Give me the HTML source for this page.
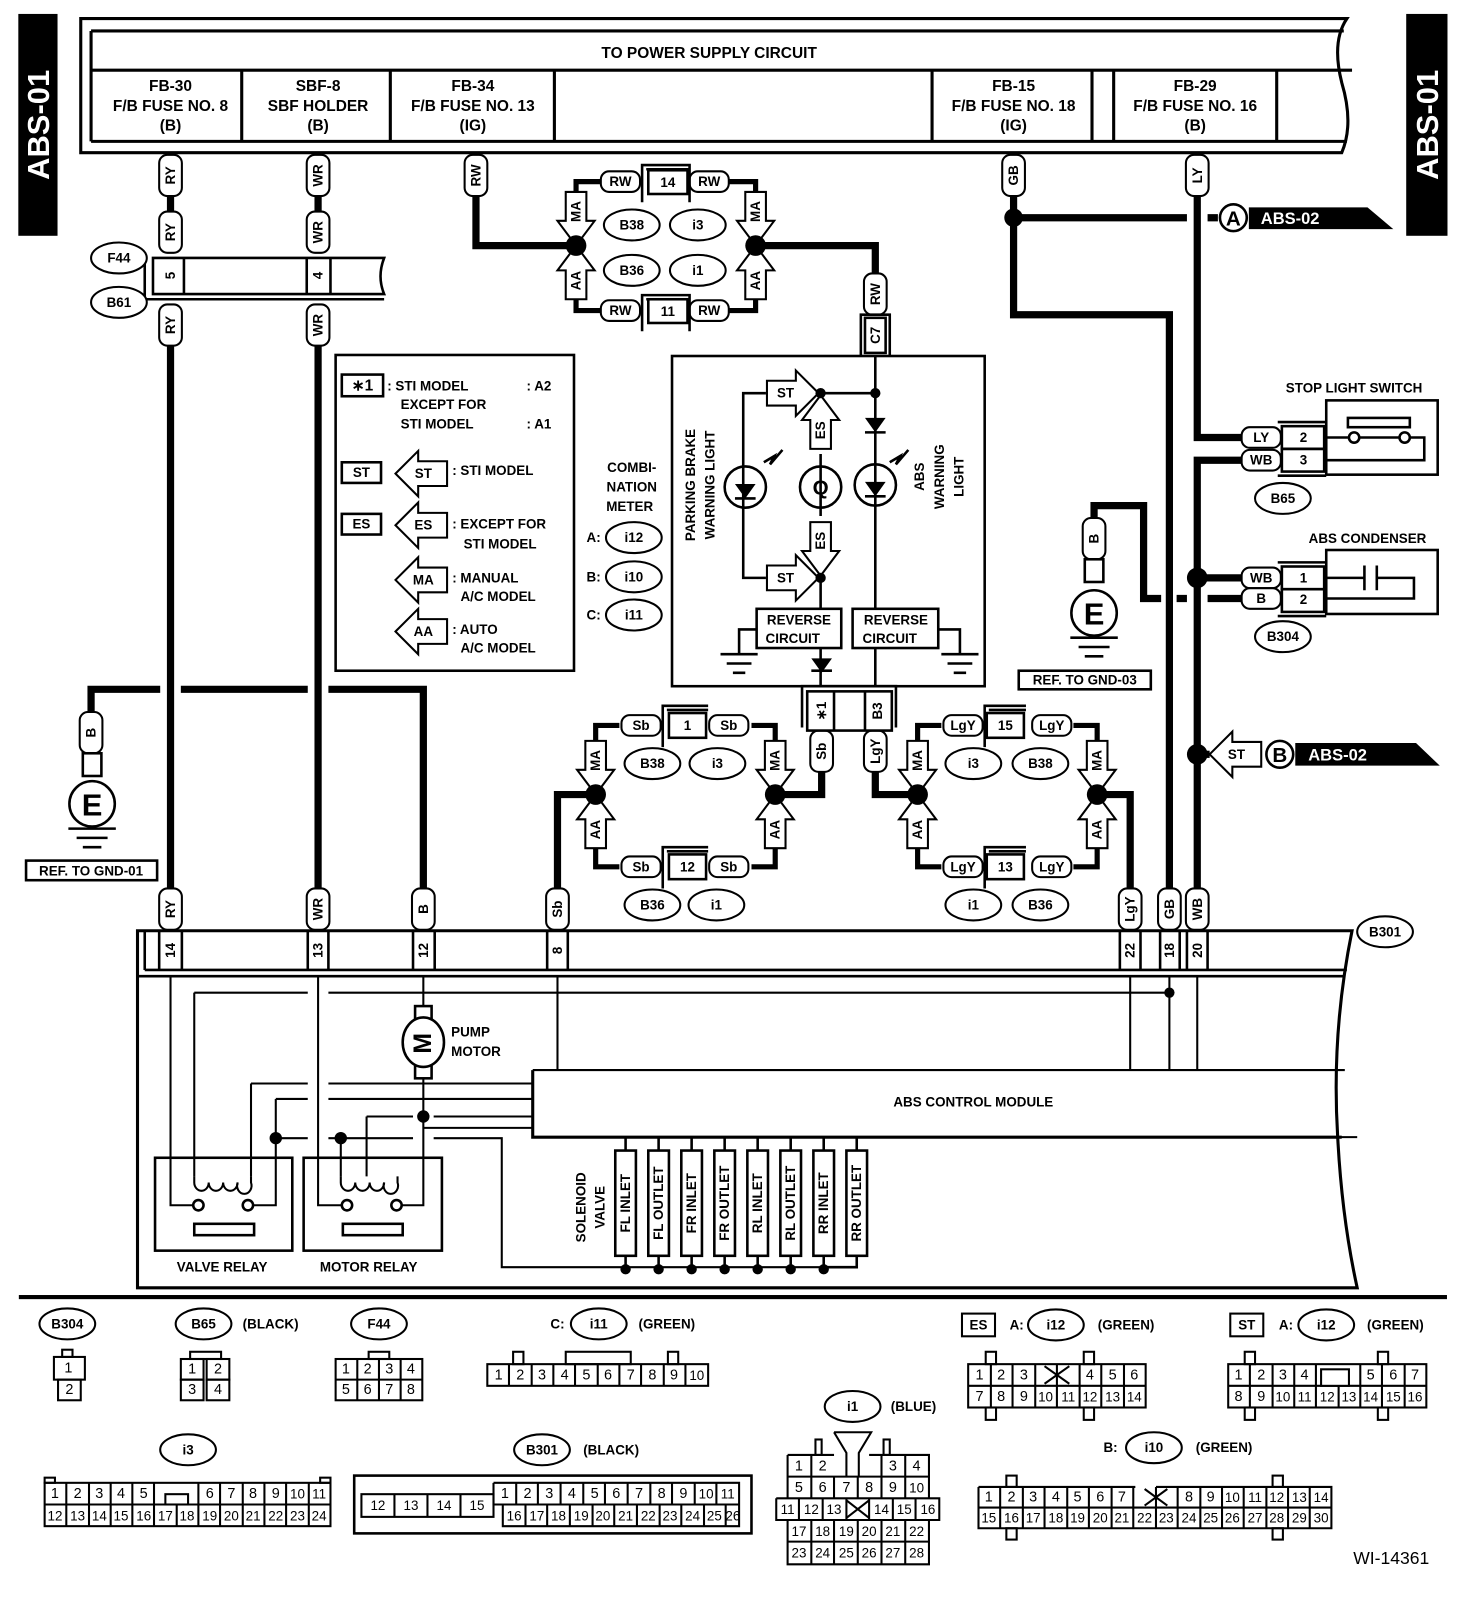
<!DOCTYPE html>
<html><head><meta charset="utf-8"><style>
html,body{margin:0;padding:0;background:#fff}
svg{display:block}
text{font-family:"Liberation Sans",sans-serif;font-weight:bold;font-size:15px;fill:#000;text-anchor:middle;dominant-baseline:central}
.n{font-weight:normal;font-size:14px}
.s{font-size:13px}
.w{fill:#fff}
.l{text-anchor:start}
</style></head><body>
<svg width="1472" height="1618" viewBox="0 0 1426 1568" xmlns="http://www.w3.org/2000/svg">
<defs>
<polygon id="ad" points="0,0 -18,-24 -10,-24 -10,-52 10,-52 10,-24 18,-24" fill="#fff" stroke="#000" stroke-width="2"/>
<polygon id="au" points="0,0 -18,24 -10,24 -10,52 10,52 10,24 18,24" fill="#fff" stroke="#000" stroke-width="2"/>
<polygon id="al" points="0,0 22,-22 22,-12 50,-12 50,12 22,12 22,22" fill="#fff" stroke="#000" stroke-width="2"/>
<polygon id="ar" points="0,0 -22,-22 -22,-12 -50,-12 -50,12 -22,12 -22,22" fill="#fff" stroke="#000" stroke-width="2"/>
<rect id="tv" x="-11" y="-20" width="22" height="40" rx="8" fill="#fff" stroke="#000" stroke-width="2"/>
<rect id="th" x="-19" y="-10" width="38" height="20" rx="8" fill="#fff" stroke="#000" stroke-width="2"/>
<ellipse id="ov" rx="27" ry="15" fill="#fff" stroke="#000" stroke-width="2"/>
</defs>
<g fill="none" stroke="#000">
<rect x="18" y="14" width="37" height="214" fill="#000"/>
<rect x="1363" y="14" width="39" height="214" fill="#000"/>
<path d="M78,18 H1305 Q1290,40 1300,80 Q1312,120 1300,148 H78 Z" stroke-width="3"/>
<path d="M88,30 H1302 M88,137 H1305 M88,30 V137 M88,68 H1310" stroke-width="3"/>
<path d="M234,68 V137 M378,68 V137 M537,68 V137 M903,68 V137 M1058,68 V137 M1079,68 V137 M1237,68 V137" stroke-width="3"/>
<g stroke-width="7">
<path d="M165,190 V205 M308,190 V205 M165,335 V862 M308,335 V862"/>
<path d="M461,190 V238 H558 M732,238 H848 V268"/>
<path d="M88,690 V668 H155 M175,668 H298 M318,668 H410 V862"/>
<path d="M982,190 V305 H1133 V862 M982,211 H1150 M1170,211 H1180"/>
<path d="M1160,190 V424 H1203 M1203,446 H1160 V862 M1160,560 H1203"/>
<path d="M1060,505 V490 H1108 V580 H1125 M1140,580 H1150 M1170,580 H1203"/>
<path d="M796,745 V770 H751 M577,770 H540 V862 M848,745 V770 H889 M1063,770 H1095 V862"/>
<path d="M1160,731 H1172"/>
</g>
<g stroke-width="5">
<path d="M558,186 V176 H582 M705,176 H732 V186 M558,290 V301 H582 M705,301 H732 V290"/>
<path d="M577,718 V703 H600 M728,703 H751 V718 M577,822 V840 H600 M728,840 H751 V822"/>
<path d="M889,718 V703 H912 M1040,703 H1063 V718 M889,822 V840 H912 M1040,840 H1063 V822"/>
</g>
</g>
<g fill="#000">
<circle cx="982" cy="211" r="9"/><circle cx="1160" cy="560" r="10"/><circle cx="1160" cy="731" r="10"/>
</g>
<text class="w" transform="translate(37,121) rotate(-90)" style="font-size:30px">ABS-01</text>
<text class="w" transform="translate(1383,121) rotate(-90)" style="font-size:30px">ABS-01</text>
<text x="687" y="52">TO POWER SUPPLY CIRCUIT</text>
<text x="165" y="84">FB-30</text><text x="165" y="103">F/B FUSE NO. 8</text><text x="165" y="122">(B)</text>
<text x="308" y="84">SBF-8</text><text x="308" y="103">SBF HOLDER</text><text x="308" y="122">(B)</text>
<text x="458" y="84">FB-34</text><text x="458" y="103">F/B FUSE NO. 13</text><text x="458" y="122">(IG)</text>
<text x="982" y="84">FB-15</text><text x="982" y="103">F/B FUSE NO. 18</text><text x="982" y="122">(IG)</text>
<text x="1158" y="84">FB-29</text><text x="1158" y="103">F/B FUSE NO. 16</text><text x="1158" y="122">(B)</text>

<g>
<use href="#tv" x="165" y="170"/><text class="s" transform="translate(165,170) rotate(-90)">RY</text>
<use href="#tv" x="308" y="170"/><text class="s" transform="translate(308,170) rotate(-90)">WR</text>
<use href="#tv" x="461" y="170"/><text class="s" transform="translate(461,170) rotate(-90)">RW</text>
<use href="#tv" x="982" y="170"/><text class="s" transform="translate(982,170) rotate(-90)">GB</text>
<use href="#tv" x="1160" y="170"/><text class="s" transform="translate(1160,170) rotate(-90)">LY</text>
<use href="#tv" x="165" y="225"/><text class="s" transform="translate(165,225) rotate(-90)">RY</text>
<use href="#tv" x="308" y="225"/><text class="s" transform="translate(308,225) rotate(-90)">WR</text>
<use href="#tv" x="165" y="315"/><text class="s" transform="translate(165,315) rotate(-90)">RY</text>
<use href="#tv" x="308" y="315"/><text class="s" transform="translate(308,315) rotate(-90)">WR</text>
<use href="#tv" x="848" y="285"/><text class="s" transform="translate(848,285) rotate(-90)">RW</text>
<use href="#tv" x="88" y="710"/><text class="s" transform="translate(88,710) rotate(-90)">B</text>
<use href="#tv" x="1060" y="522"/><text class="s" transform="translate(1060,522) rotate(-90)">B</text>
<use href="#tv" x="796" y="728"/><text class="s" transform="translate(796,728) rotate(-90)">Sb</text>
<use href="#tv" x="848" y="728"/><text class="s" transform="translate(848,728) rotate(-90)">LgY</text>
<use href="#tv" x="165" y="881"/><text class="s" transform="translate(165,881) rotate(-90)">RY</text>
<use href="#tv" x="308" y="881"/><text class="s" transform="translate(308,881) rotate(-90)">WR</text>
<use href="#tv" x="410" y="881"/><text class="s" transform="translate(410,881) rotate(-90)">B</text>
<use href="#tv" x="540" y="881"/><text class="s" transform="translate(540,881) rotate(-90)">Sb</text>
<use href="#tv" x="1095" y="881"/><text class="s" transform="translate(1095,881) rotate(-90)">LgY</text>
<use href="#tv" x="1133" y="881"/><text class="s" transform="translate(1133,881) rotate(-90)">GB</text>
<use href="#tv" x="1160" y="881"/><text class="s" transform="translate(1160,881) rotate(-90)">WB</text>
</g>
<g fill="none" stroke="#000" stroke-width="2.5">
<path d="M148,250 H372 Q365,268 372,285 H148 Z M140,250 V290 H372"/>
<path d="M178,250 V285 M297,250 V285 M320,250 V285"/>
</g>
<text class="s" transform="translate(165,267) rotate(-90)">5</text>
<text class="s" transform="translate(308,267) rotate(-90)">4</text>
<use href="#ov" x="115" y="250"/><text x="115" y="250" class="s">F44</text>
<use href="#ov" x="115" y="293"/><text x="115" y="293" class="s">B61</text>

<g fill="none" stroke="#000" stroke-width="2.5">
<rect x="80" y="730" width="18" height="22" fill="#fff"/>
<circle cx="89" cy="779" r="22" fill="#fff"/>
<path d="M66,803 H112 M74,812 H104 M80,821 H98"/>
<rect x="25" y="834" width="127" height="19"/>
<rect x="1051" y="542" width="18" height="22" fill="#fff"/>
<circle cx="1060" cy="594" r="22" fill="#fff"/>
<path d="M1037,618 H1083 M1045,627 H1075 M1051,636 H1069"/>
<rect x="987" y="650" width="128" height="18"/>
</g>
<text x="89" y="780" style="font-size:30px">E</text>
<text x="88" y="844" class="s">REF. TO GND-01</text>
<text x="1060" y="595" style="font-size:30px">E</text>
<text x="1051" y="659" class="s">REF. TO GND-03</text>

<use href="#ad" x="558" y="238"/><text class="s" transform="translate(558,205) rotate(-90)">MA</text>
<use href="#ad" x="732" y="238"/><text class="s" transform="translate(732,205) rotate(-90)">MA</text>
<use href="#au" x="558" y="238"/><text class="s" transform="translate(558,272) rotate(-90)">AA</text>
<use href="#au" x="732" y="238"/><text class="s" transform="translate(732,272) rotate(-90)">AA</text>
<use href="#th" x="601" y="176"/><text x="601" y="176" class="s">RW</text>
<use href="#th" x="687" y="176"/><text x="687" y="176" class="s">RW</text>
<use href="#th" x="601" y="301"/><text x="601" y="301" class="s">RW</text>
<use href="#th" x="687" y="301"/><text x="687" y="301" class="s">RW</text>
<g fill="#fff" stroke="#000" stroke-width="2.5">
<path d="M622,196 V160 H668 V196 M626,164 H668" fill="none"/><rect x="628" y="165" width="38" height="23"/>
<path d="M622,321 V286 H668 V321 M626,290 H668" fill="none"/><rect x="628" y="290" width="38" height="23"/>
</g>
<text x="647" y="177" class="s">14</text><text x="647" y="302" class="s">11</text>
<use href="#ov" x="612" y="218"/><text x="612" y="218" class="s">B38</text>
<use href="#ov" x="676" y="218"/><text x="676" y="218" class="s">i3</text>
<use href="#ov" x="612" y="262"/><text x="612" y="262" class="s">B36</text>
<use href="#ov" x="676" y="262"/><text x="676" y="262" class="s">i1</text>
<g fill="#fff" stroke="#000" stroke-width="2.5"><path d="M834,345 V305 H862 V345" fill="none"/><rect x="838" y="308" width="20" height="34"/></g>
<text class="s" transform="translate(848,325) rotate(-90)">C7</text>

<g fill="none" stroke="#000" stroke-width="2.5">
<rect x="325" y="344" width="231" height="306"/>
<rect x="331" y="363" width="40" height="21"/>
<rect x="331" y="448" width="38" height="20"/>
<rect x="331" y="498" width="38" height="20"/>
</g>
<use href="#al" x="383" y="459"/><use href="#al" x="383" y="509"/><use href="#al" x="383" y="562"/><use href="#al" x="383" y="612"/>
<text x="351" y="374">∗1</text><text x="350" y="458" class="s">ST</text><text x="350" y="508" class="s">ES</text>
<text x="410" y="459" class="s">ST</text><text x="410" y="509" class="s">ES</text><text x="410" y="562" class="s">MA</text><text x="410" y="612" class="s">AA</text>
<text x="375" y="374" class="l s">: STI MODEL</text><text x="510" y="374" class="l s">: A2</text>
<text x="388" y="392" class="l s">EXCEPT FOR</text>
<text x="388" y="411" class="l s">STI MODEL</text><text x="510" y="411" class="l s">: A1</text>
<text x="438" y="456" class="l s">: STI MODEL</text>
<text x="438" y="508" class="l s">: EXCEPT FOR</text><text x="449" y="527" class="l s">STI MODEL</text>
<text x="438" y="560" class="l s">: MANUAL</text><text x="446" y="578" class="l s">A/C MODEL</text>
<text x="438" y="610" class="l s">: AUTO</text><text x="446" y="628" class="l s">A/C MODEL</text>
<text x="612" y="453" class="s">COMBI-</text><text x="612" y="472" class="s">NATION</text><text x="610" y="491" class="s">METER</text>
<text x="575" y="521" class="s">A:</text><use href="#ov" x="614" y="521"/><text x="614" y="521" class="s">i12</text>
<text x="575" y="559" class="s">B:</text><use href="#ov" x="614" y="559"/><text x="614" y="559" class="s">i10</text>
<text x="575" y="596" class="s">C:</text><use href="#ov" x="614" y="596"/><text x="614" y="596" class="s">i11</text>

<g fill="none" stroke="#000" stroke-width="2.5">
<rect x="651" y="345" width="303" height="320"/>
<path d="M848,345 V590 M848,628 V665 M795,381 H848 M742,381 H720 V560 H742 M795,560 V590 M795,628 V665 M795,440 V500"/>
<circle cx="722" cy="472" r="20"/><circle cx="795" cy="472" r="20"/><circle cx="848" cy="470" r="20"/>
<rect x="733" y="590" width="82" height="38" fill="#fff"/><rect x="826" y="590" width="83" height="38" fill="#fff"/>
<path d="M733,610 H716 V634 M698,634 H734 M704,643 H728 M710,652 H722"/>
<path d="M909,610 H930 V634 M912,634 H948 M918,643 H942 M924,652 H936"/>
<path d="M838,419 H858 M712,483 H732 M838,481 H858 M786,650 H806"/>
<path d="M740,448 l10,-6 -4,8 12,-14 M862,448 l10,-6 -4,8 12,-14"/>
</g>
<g fill="#000">
<polygon points="838,405 858,405 848,419"/><polygon points="712,469 732,469 722,483"/><polygon points="838,467 858,467 848,481"/>
<polygon points="786,638 806,638 796,652"/>
</g>
<use href="#ar" x="793" y="381"/><text x="761" y="381" class="s">ST</text>
<use href="#ar" x="793" y="560"/><text x="761" y="560" class="s">ST</text>
<use href="#au" x="795" y="383"/><text class="s" transform="translate(795,417) rotate(-90)">ES</text>
<use href="#ad" x="795" y="558"/><text class="s" transform="translate(795,524) rotate(-90)">ES</text>
<g fill="#000"><circle cx="795" cy="381" r="5"/><circle cx="848" cy="381" r="5"/><circle cx="795" cy="560" r="5"/></g>
<text x="795" y="473" style="font-size:20px">Q</text>
<text x="774" y="601" class="s">REVERSE</text><text x="768" y="619" class="s">CIRCUIT</text>
<text x="868" y="601" class="s">REVERSE</text><text x="862" y="619" class="s">CIRCUIT</text>
<text class="s" transform="translate(669,470) rotate(-90)">PARKING BRAKE</text>
<text class="s" transform="translate(688,470) rotate(-90)">WARNING LIGHT</text>
<text class="s" transform="translate(891,462) rotate(-90)">ABS</text>
<text class="s" transform="translate(910,462) rotate(-90)">WARNING</text>
<text class="s" transform="translate(929,462) rotate(-90)">LIGHT</text>
<g fill="#fff" stroke="#000" stroke-width="2.5"><path d="M777,705 V665 H868 V705" fill="none"/><rect x="782" y="670" width="82" height="38"/><path d="M808,670 V708 M838,670 V708"/></g>
<text class="s" transform="translate(796,689) rotate(-90)">∗1</text><text class="s" transform="translate(850,689) rotate(-90)">B3</text>

<use href="#ad" x="577" y="770"/><text class="s" transform="translate(577,737) rotate(-90)">MA</text>
<use href="#ad" x="751" y="770"/><text class="s" transform="translate(751,737) rotate(-90)">MA</text>
<use href="#au" x="577" y="770"/><text class="s" transform="translate(577,804) rotate(-90)">AA</text>
<use href="#au" x="751" y="770"/><text class="s" transform="translate(751,804) rotate(-90)">AA</text>
<use href="#ad" x="889" y="770"/><text class="s" transform="translate(889,737) rotate(-90)">MA</text>
<use href="#ad" x="1063" y="770"/><text class="s" transform="translate(1063,737) rotate(-90)">MA</text>
<use href="#au" x="889" y="770"/><text class="s" transform="translate(889,804) rotate(-90)">AA</text>
<use href="#au" x="1063" y="770"/><text class="s" transform="translate(1063,804) rotate(-90)">AA</text>
<g fill="#000">
<circle cx="558" cy="238" r="10"/><circle cx="732" cy="238" r="10"/>
<circle cx="577" cy="770" r="10"/><circle cx="751" cy="770" r="10"/>
<circle cx="889" cy="770" r="10"/><circle cx="1063" cy="770" r="10"/>
</g>
<use href="#th" x="621" y="703"/><text x="621" y="703" class="s">Sb</text>
<use href="#th" x="706" y="703"/><text x="706" y="703" class="s">Sb</text>
<use href="#th" x="621" y="840"/><text x="621" y="840" class="s">Sb</text>
<use href="#th" x="706" y="840"/><text x="706" y="840" class="s">Sb</text>
<use href="#th" x="933" y="703"/><text x="933" y="703" class="s">LgY</text>
<use href="#th" x="1019" y="703"/><text x="1019" y="703" class="s">LgY</text>
<use href="#th" x="933" y="840"/><text x="933" y="840" class="s">LgY</text>
<use href="#th" x="1019" y="840"/><text x="1019" y="840" class="s">LgY</text>
<g fill="#fff" stroke="#000" stroke-width="2.5">
<path d="M642,724 V684 H686 M646,688 H686" fill="none"/><rect x="648" y="691" width="36" height="24"/>
<path d="M642,861 V821 H686 M646,825 H686" fill="none"/><rect x="648" y="828" width="36" height="24"/>
<path d="M954,724 V684 H994 M958,688 H994" fill="none"/><rect x="956" y="691" width="36" height="24"/>
<path d="M954,861 V821 H994 M958,825 H994" fill="none"/><rect x="956" y="828" width="36" height="24"/>
</g>
<text x="666" y="703" class="s">1</text><text x="666" y="840" class="s">12</text>
<text x="974" y="703" class="s">15</text><text x="974" y="840" class="s">13</text>
<use href="#ov" x="632" y="740"/><text x="632" y="740" class="s">B38</text>
<use href="#ov" x="695" y="740"/><text x="695" y="740" class="s">i3</text>
<use href="#ov" x="632" y="877"/><text x="632" y="877" class="s">B36</text>
<use href="#ov" x="694" y="877"/><text x="694" y="877" class="s">i1</text>
<use href="#ov" x="943" y="740"/><text x="943" y="740" class="s">i3</text>
<use href="#ov" x="1008" y="740"/><text x="1008" y="740" class="s">B38</text>
<use href="#ov" x="943" y="877"/><text x="943" y="877" class="s">i1</text>
<use href="#ov" x="1008" y="877"/><text x="1008" y="877" class="s">B36</text>

<circle cx="1195" cy="211" r="13" fill="#fff" stroke="#000" stroke-width="2.5"/>
<polygon points="1210,201 1325,201 1350,222 1210,222" fill="#000"/>
<text x="1195" y="212" style="font-size:20px">A</text><text x="1250" y="212" class="w" style="font-size:16px">ABS-02</text>
<use href="#al" x="1172" y="731"/><text x="1198" y="731" class="s">ST</text>
<circle cx="1240" cy="731" r="13" fill="#fff" stroke="#000" stroke-width="2.5"/>
<polygon points="1255,720 1372,720 1395,742 1255,742" fill="#000"/>
<text x="1240" y="732" style="font-size:20px">B</text><text x="1296" y="732" class="w" style="font-size:16px">ABS-02</text>
<g fill="none" stroke="#000" stroke-width="2.5">
<rect x="1285" y="388" width="108" height="72"/>
<rect x="1242" y="413" width="41" height="22"/><rect x="1242" y="435" width="41" height="22"/>
<path d="M1238,409 H1285 M1238,461 H1285"/>
<rect x="1306" y="405" width="60" height="9"/>
<path d="M1283,424 H1306 M1318,424 H1355 M1367,424 H1380 V446 H1283"/>
<circle cx="1312" cy="424" r="5" fill="#fff"/><circle cx="1361" cy="424" r="5" fill="#fff"/>
<rect x="1285" y="533" width="108" height="62"/>
<rect x="1242" y="549" width="41" height="22"/><rect x="1242" y="571" width="41" height="22"/>
<path d="M1238,545 H1285 M1238,597 H1285"/>
<path d="M1283,560 H1322 M1334,560 H1370 V580 H1283 M1322,548 V572 M1334,548 V572" />
</g>
<use href="#th" x="1222" y="424"/><text x="1222" y="424" class="s">LY</text>
<use href="#th" x="1222" y="446"/><text x="1222" y="446" class="s">WB</text>
<use href="#th" x="1222" y="560"/><text x="1222" y="560" class="s">WB</text>
<use href="#th" x="1222" y="580"/><text x="1222" y="580" class="s">B</text>
<text x="1263" y="424" class="s">2</text><text x="1263" y="446" class="s">3</text>
<text x="1263" y="560" class="s">1</text><text x="1263" y="581" class="s">2</text>
<text x="1312" y="376" class="s">STOP LIGHT SWITCH</text>
<text x="1325" y="522" class="s">ABS CONDENSER</text>
<use href="#ov" x="1243" y="483"/><text x="1243" y="483" class="s">B65</text>
<use href="#ov" x="1243" y="617"/><text x="1243" y="617" class="s">B304</text>
<use href="#ov" x="1342" y="903"/><text x="1342" y="903" class="s">B301</text>

<g fill="none" stroke="#000" stroke-width="2.5">
<path d="M133,902 V1248 H1315 Q1300,1180 1296,1100 Q1290,1000 1310,902 Z" stroke-width="3"/>
<path d="M140,902 H1307 M140,940 H1305 M133,946 H1303 M140,902 V940"/>
<path d="M154,902 V940 M176,902 V940 M298,902 V940 M318,902 V940 M400,902 V940 M421,902 V940 M530,902 V940 M550,902 V940 M1085,902 V940 M1105,902 V940 M1124,902 V940 M1143,902 V940 M1150,902 V940 M1170,902 V940"/>
<g stroke-width="2">
<path d="M165,946 V1168 H187"/>
<path d="M188,962 H298 M318,962 H1133 M188,962 V1140"/>
<path d="M308,946 V1168 H331"/>
<path d="M410,946 V975 M410,1045 V1168 H389"/>
<path d="M540,946 V1037 M1095,946 V1037 M1133,946 V1037 M1160,946 V1037"/>
<path d="M243,1050 H298 M318,1050 H516 M243,1050 V1140"/>
<path d="M267,1065 H298 M318,1065 H516 M267,1065 V1168 H245"/>
<path d="M355,1082 H400 M420,1082 H516 M355,1082 V1140"/>
<path d="M410,1093 H516"/>
<path d="M267,1103 H298 M318,1103 H400 M420,1103 H486 V1228 H800 M330,1103 V1140"/>
<path d="M598,1102 H1315 M516,1037 H1303"/>
<path d="M188,1140 V1146 a7,8 0 1 0 14,0 a7,8 0 1 0 14,0 a7,8 0 1 0 14,0 a7,8 0 1 0 13,0 V1140"/>
<path d="M330,1140 V1146 a7,8 0 1 0 14,0 a7,8 0 1 0 14,0 a7,8 0 1 0 14,0 a7,8 0 1 0 13,0 V1140"/>
</g>
<path d="M516,1037 V1102 H1300" stroke-width="3"/>
<rect x="402" y="975" width="16" height="18" fill="#fff"/><rect x="402" y="1027" width="16" height="18" fill="#fff"/>
<ellipse cx="410" cy="1010" rx="20" ry="24" fill="#fff"/>
<rect x="150" y="1122" width="133" height="90"/><rect x="294" y="1122" width="134" height="90"/>
<rect x="188" y="1186" width="58" height="11"/><rect x="332" y="1186" width="58" height="11"/>
<circle cx="192" cy="1168" r="5" fill="#fff"/><circle cx="240" cy="1168" r="5" fill="#fff"/>
<circle cx="336" cy="1168" r="5" fill="#fff"/><circle cx="384" cy="1168" r="5" fill="#fff"/>
<g stroke-width="2.5">
<rect x="596" y="1115" width="20" height="102"/><rect x="628" y="1115" width="20" height="102"/>
<rect x="660" y="1115" width="20" height="102"/><rect x="692" y="1115" width="20" height="102"/>
<rect x="724" y="1115" width="20" height="102"/><rect x="756" y="1115" width="20" height="102"/>
<rect x="788" y="1115" width="20" height="102"/><rect x="820" y="1115" width="20" height="102"/>
<path d="M606,1102 V1115 M638,1102 V1115 M670,1102 V1115 M702,1102 V1115 M734,1102 V1115 M766,1102 V1115 M798,1102 V1115 M830,1102 V1115"/>
<path d="M606,1217 V1228 M638,1217 V1228 M670,1217 V1228 M702,1217 V1228 M734,1217 V1228 M766,1217 V1228 M798,1217 V1228 M830,1217 V1228 H798"/>
</g>
</g>
<g fill="#000">
<circle cx="1133" cy="962" r="5"/><circle cx="267" cy="1103" r="6"/><circle cx="330" cy="1103" r="6"/><circle cx="410" cy="1082" r="6"/>
<circle cx="606" cy="1230" r="5"/><circle cx="638" cy="1230" r="5"/><circle cx="670" cy="1230" r="5"/><circle cx="702" cy="1230" r="5"/>
<circle cx="734" cy="1230" r="5"/><circle cx="766" cy="1230" r="5"/><circle cx="798" cy="1230" r="5"/>
</g>
<text class="s" transform="translate(165,921) rotate(-90)">14</text>
<text class="s" transform="translate(308,921) rotate(-90)">13</text>
<text class="s" transform="translate(410,921) rotate(-90)">12</text>
<text class="s" transform="translate(540,921) rotate(-90)">8</text>
<text class="s" transform="translate(1095,921) rotate(-90)">22</text>
<text class="s" transform="translate(1133,921) rotate(-90)">18</text>
<text class="s" transform="translate(1160,921) rotate(-90)">20</text>
<text x="410" y="1011" style="font-size:24px" transform="rotate(-90 410 1011)">M</text>
<text x="437" y="1000" class="l s">PUMP</text><text x="437" y="1019" class="l s">MOTOR</text>
<text x="943" y="1068" class="s">ABS CONTROL MODULE</text>
<text x="215" y="1228" class="s">VALVE RELAY</text><text x="357" y="1228" class="s">MOTOR RELAY</text>
<text class="s" transform="translate(563,1170) rotate(-90)">SOLENOID</text>
<text class="s" transform="translate(581,1170) rotate(-90)">VALVE</text>
<text class="s" transform="translate(606,1166) rotate(-90)">FL INLET</text>
<text class="s" transform="translate(638,1166) rotate(-90)">FL OUTLET</text>
<text class="s" transform="translate(670,1166) rotate(-90)">FR INLET</text>
<text class="s" transform="translate(702,1166) rotate(-90)">FR OUTLET</text>
<text class="s" transform="translate(734,1166) rotate(-90)">RL INLET</text>
<text class="s" transform="translate(766,1166) rotate(-90)">RL OUTLET</text>
<text class="s" transform="translate(798,1166) rotate(-90)">RR INLET</text>
<text class="s" transform="translate(830,1166) rotate(-90)">RR OUTLET</text>

<rect x="18" y="1255" width="1384" height="4" fill="#000"/>

<g fill="none" stroke="#000" stroke-width="2">
<rect x="60" y="1308" width="10" height="7"/><rect x="52" y="1315" width="30" height="22"/><rect x="56" y="1337" width="22" height="20"/>
<rect x="184" y="1310" width="30" height="7"/><rect x="175" y="1317" width="22" height="20"/><rect x="200" y="1317" width="22" height="20"/><rect x="175" y="1337" width="22" height="20"/><rect x="200" y="1337" width="22" height="20"/>
<rect x="357" y="1310" width="20" height="7"/><rect x="325" y="1317" width="84" height="40"/><path d="M325,1337 H409 M346,1317 V1357 M367,1317 V1357 M388,1317 V1357"/>
<rect x="472" y="1322" width="214" height="21"/><path d="M493,1322 V1343 M515,1322 V1343 M536,1322 V1343 M557,1322 V1343 M579,1322 V1343 M600,1322 V1343 M621,1322 V1343 M643,1322 V1343 M664,1322 V1343"/>
<rect x="497" y="1310" width="10" height="12"/><rect x="548" y="1310" width="63" height="12"/><rect x="647" y="1310" width="10" height="12"/>
<rect x="938" y="1322" width="172" height="42"/><path d="M938,1343 H1110 M960,1322 V1364 M981,1322 V1364 M1003,1322 V1364 M1024,1322 V1364 M1046,1322 V1364 M1067,1322 V1364 M1089,1322 V1364"/>
<path d="M1012,1324 L1036,1341 M1036,1324 L1012,1341"/>
<rect x="955" y="1310" width="10" height="12"/><rect x="1050" y="1310" width="10" height="12"/><rect x="955" y="1364" width="10" height="12"/><rect x="1050" y="1364" width="10" height="12"/>
<rect x="932" y="1273" width="32" height="22"/><rect x="1192" y="1273" width="32" height="22"/>
<rect x="1190" y="1322" width="192" height="42"/><path d="M1190,1343 H1382 M1211,1322 V1364 M1233,1322 V1364 M1254,1322 V1364 M1275,1343 V1364 M1297,1343 V1364 M1318,1322 V1364 M1339,1322 V1364 M1361,1322 V1364 M1275,1322 V1343"/>
<rect x="1280" y="1327" width="27" height="16" fill="#fff"/>
<rect x="1206" y="1310" width="10" height="12"/><rect x="1335" y="1310" width="10" height="12"/><rect x="1206" y="1364" width="10" height="12"/><rect x="1335" y="1364" width="10" height="12"/>
<rect x="43" y="1437" width="277" height="42"/><path d="M43,1458 H320 M64,1437 V1479 M86,1437 V1479 M107,1437 V1479 M128,1437 V1479 M149,1437 V1479 M171,1458 V1479 M192,1437 V1479 M213,1437 V1479 M235,1437 V1479 M256,1437 V1479 M277,1437 V1479 M299,1437 V1479"/>
<rect x="160" y="1448" width="22" height="10" fill="#fff"/>
<rect x="43" y="1432" width="10" height="5"/><rect x="310" y="1432" width="10" height="5"/>
<rect x="343" y="1430" width="385" height="56" stroke-width="2.5"/>
<rect x="350" y="1448" width="128" height="22"/><path d="M382,1448 V1470 M414,1448 V1470 M446,1448 V1470"/>
<path d="M478,1437 H716 V1479 H487 V1458 H478 V1437 M478,1458 H716"/>
<path d="M500,1437 V1458 M521,1437 V1458 M543,1437 V1458 M565,1437 V1458 M586,1437 V1458 M608,1437 V1458 M630,1437 V1458 M651,1437 V1458 M673,1437 V1458 M694,1437 V1458"/>
<path d="M509,1458 V1479 M530,1458 V1479 M552,1458 V1479 M574,1458 V1479 M595,1458 V1479 M617,1458 V1479 M639,1458 V1479 M660,1458 V1479 M682,1458 V1479 M703,1458 V1479"/>
<path d="M763,1410 H808 M842,1410 H900 V1452 M900,1473 V1516 H763 V1473 M763,1452 V1410 M752,1452 H910 V1473 H752 V1452 M763,1431 H900 M763,1494 H900"/>
<path d="M786,1410 V1452 M877,1410 V1452 M854,1410 V1452 M808,1431 V1452 M831,1431 V1452 M786,1473 V1516 M808,1473 V1516 M831,1473 V1516 M854,1473 V1516 M877,1473 V1516"/>
<path d="M774,1452 V1473 M797,1452 V1473 M820,1452 V1473 M842,1452 V1473 M865,1452 V1473 M887,1452 V1473 M820,1454 L842,1471 M842,1454 L820,1471"/>
<path d="M808,1388 H844 L832,1408 V1431 M820,1431 V1408 L808,1388"/>
<rect x="790" y="1395" width="6" height="15"/><rect x="856" y="1395" width="6" height="15"/>
<path d="M948,1441 H1100 M1120,1441 H1290 V1481 H948 V1441 M948,1461 H1290"/>
<path d="M969,1441 V1481 M991,1441 V1481 M1012,1441 V1481 M1034,1441 V1481 M1055,1441 V1481 M1077,1441 V1481 M1098,1441 V1481 M1120,1441 V1481 M1141,1441 V1481 M1163,1441 V1481 M1184,1441 V1481 M1205,1441 V1481 M1227,1441 V1481 M1248,1441 V1481 M1269,1441 V1481"/>
<path d="M1109,1443 L1131,1459 M1131,1443 L1109,1459"/>
<rect x="975" y="1430" width="10" height="11"/><rect x="1233" y="1430" width="10" height="11"/><rect x="975" y="1481" width="10" height="11"/><rect x="1233" y="1481" width="10" height="11"/>
</g>
<use href="#ov" x="65" y="1283"/><text x="65" y="1283" class="s">B304</text>
<use href="#ov" x="197" y="1283"/><text x="197" y="1283" class="s">B65</text><text x="262" y="1283" class="s">(BLACK)</text>
<use href="#ov" x="367" y="1283"/><text x="367" y="1283" class="s">F44</text>
<text x="540" y="1283" class="s">C:</text><use href="#ov" x="580" y="1283"/><text x="580" y="1283" class="s">i11</text><text x="646" y="1283" class="s">(GREEN)</text>
<text x="948" y="1284" class="s">ES</text><text x="985" y="1284" class="s">A:</text><use href="#ov" x="1023" y="1284"/><text x="1023" y="1284" class="s">i12</text><text x="1091" y="1284" class="s">(GREEN)</text>
<text x="1208" y="1284" class="s">ST</text><text x="1246" y="1284" class="s">A:</text><use href="#ov" x="1285" y="1284"/><text x="1285" y="1284" class="s">i12</text><text x="1352" y="1284" class="s">(GREEN)</text>
<use href="#ov" x="182" y="1405"/><text x="182" y="1405" class="s">i3</text>
<use href="#ov" x="525" y="1405"/><text x="525" y="1405" class="s">B301</text><text x="592" y="1405" class="s">(BLACK)</text>
<use href="#ov" x="826" y="1363"/><text x="826" y="1363" class="s">i1</text><text x="885" y="1363" class="s">(BLUE)</text>
<text x="1076" y="1403" class="s">B:</text><use href="#ov" x="1118" y="1403"/><text x="1118" y="1403" class="s">i10</text><text x="1186" y="1403" class="s">(GREEN)</text>
<text x="1348" y="1510" class="n" style="font-size:17px">WI-14361</text>
<g>
<text x="66" y="1326" class="n">1</text><text x="67" y="1347" class="n">2</text>
<text x="186" y="1327" class="n">1</text><text x="211" y="1327" class="n">2</text><text x="186" y="1347" class="n">3</text><text x="211" y="1347" class="n">4</text>
<text x="335" y="1327" class="n">1</text><text x="356" y="1327" class="n">2</text><text x="377" y="1327" class="n">3</text><text x="398" y="1327" class="n">4</text>
<text x="335" y="1347" class="n">5</text><text x="356" y="1347" class="n">6</text><text x="377" y="1347" class="n">7</text><text x="398" y="1347" class="n">8</text>
<text x="483" y="1333" class="n">1</text><text x="504" y="1333" class="n">2</text><text x="525" y="1333" class="n">3</text><text x="547" y="1333" class="n">4</text><text x="568" y="1333" class="n">5</text><text x="589" y="1333" class="n">6</text><text x="611" y="1333" class="n">7</text><text x="632" y="1333" class="n">8</text><text x="653" y="1333" class="n">9</text><text x="675" y="1333" class="n s">10</text>
<text x="949" y="1333" class="n">1</text><text x="970" y="1333" class="n">2</text><text x="992" y="1333" class="n">3</text><text x="1056" y="1333" class="n">4</text><text x="1078" y="1333" class="n">5</text><text x="1099" y="1333" class="n">6</text>
<text x="949" y="1354" class="n">7</text><text x="970" y="1354" class="n">8</text><text x="992" y="1354" class="n">9</text><text x="1013" y="1354" class="n s">10</text><text x="1035" y="1354" class="n s">11</text><text x="1056" y="1354" class="n s">12</text><text x="1078" y="1354" class="n s">13</text><text x="1099" y="1354" class="n s">14</text>
<text x="1200" y="1333" class="n">1</text><text x="1222" y="1333" class="n">2</text><text x="1243" y="1333" class="n">3</text><text x="1264" y="1333" class="n">4</text><text x="1328" y="1333" class="n">5</text><text x="1350" y="1333" class="n">6</text><text x="1371" y="1333" class="n">7</text>
<text x="1200" y="1354" class="n">8</text><text x="1222" y="1354" class="n">9</text><text x="1243" y="1354" class="n s">10</text><text x="1264" y="1354" class="n s">11</text><text x="1286" y="1354" class="n s">12</text><text x="1307" y="1354" class="n s">13</text><text x="1328" y="1354" class="n s">14</text><text x="1350" y="1354" class="n s">15</text><text x="1371" y="1354" class="n s">16</text>
<text x="53" y="1448" class="n">1</text><text x="75" y="1448" class="n">2</text><text x="96" y="1448" class="n">3</text><text x="117" y="1448" class="n">4</text><text x="139" y="1448" class="n">5</text><text x="203" y="1448" class="n">6</text><text x="224" y="1448" class="n">7</text><text x="245" y="1448" class="n">8</text><text x="267" y="1448" class="n">9</text><text x="288" y="1448" class="n s">10</text><text x="309" y="1448" class="n s">11</text>
<text x="53" y="1469" class="n s">12</text><text x="75" y="1469" class="n s">13</text><text x="96" y="1469" class="n s">14</text><text x="117" y="1469" class="n s">15</text><text x="139" y="1469" class="n s">16</text><text x="160" y="1469" class="n s">17</text><text x="181" y="1469" class="n s">18</text><text x="203" y="1469" class="n s">19</text><text x="224" y="1469" class="n s">20</text><text x="245" y="1469" class="n s">21</text><text x="267" y="1469" class="n s">22</text><text x="288" y="1469" class="n s">23</text><text x="309" y="1469" class="n s">24</text>
<text x="366" y="1459" class="n s">12</text><text x="398" y="1459" class="n s">13</text><text x="430" y="1459" class="n s">14</text><text x="462" y="1459" class="n s">15</text>
<text x="489" y="1448" class="n">1</text><text x="511" y="1448" class="n">2</text><text x="532" y="1448" class="n">3</text><text x="554" y="1448" class="n">4</text><text x="576" y="1448" class="n">5</text><text x="597" y="1448" class="n">6</text><text x="619" y="1448" class="n">7</text><text x="641" y="1448" class="n">8</text><text x="662" y="1448" class="n">9</text><text x="684" y="1448" class="n s">10</text><text x="705" y="1448" class="n s">11</text>
<text x="498" y="1469" class="n s">16</text><text x="520" y="1469" class="n s">17</text><text x="541" y="1469" class="n s">18</text><text x="563" y="1469" class="n s">19</text><text x="584" y="1469" class="n s">20</text><text x="606" y="1469" class="n s">21</text><text x="628" y="1469" class="n s">22</text><text x="649" y="1469" class="n s">23</text><text x="671" y="1469" class="n s">24</text><text x="692" y="1469" class="n s">25</text><text x="710" y="1469" class="n s">26</text>
<text x="774" y="1421" class="n">1</text><text x="797" y="1421" class="n">2</text><text x="865" y="1421" class="n">3</text><text x="888" y="1421" class="n">4</text>
<text x="774" y="1442" class="n">5</text><text x="797" y="1442" class="n">6</text><text x="820" y="1442" class="n">7</text><text x="842" y="1442" class="n">8</text><text x="865" y="1442" class="n">9</text><text x="888" y="1442" class="n s">10</text>
<text x="763" y="1463" class="n s">11</text><text x="786" y="1463" class="n s">12</text><text x="808" y="1463" class="n s">13</text><text x="854" y="1463" class="n s">14</text><text x="876" y="1463" class="n s">15</text><text x="899" y="1463" class="n s">16</text>
<text x="774" y="1484" class="n s">17</text><text x="797" y="1484" class="n s">18</text><text x="820" y="1484" class="n s">19</text><text x="842" y="1484" class="n s">20</text><text x="865" y="1484" class="n s">21</text><text x="888" y="1484" class="n s">22</text>
<text x="774" y="1505" class="n s">23</text><text x="797" y="1505" class="n s">24</text><text x="820" y="1505" class="n s">25</text><text x="842" y="1505" class="n s">26</text><text x="865" y="1505" class="n s">27</text><text x="888" y="1505" class="n s">28</text>
<text x="958" y="1451" class="n">1</text><text x="980" y="1451" class="n">2</text><text x="1001" y="1451" class="n">3</text><text x="1023" y="1451" class="n">4</text><text x="1044" y="1451" class="n">5</text><text x="1066" y="1451" class="n">6</text><text x="1087" y="1451" class="n">7</text><text x="1152" y="1451" class="n">8</text><text x="1173" y="1451" class="n">9</text><text x="1194" y="1451" class="n s">10</text><text x="1216" y="1451" class="n s">11</text><text x="1237" y="1451" class="n s">12</text><text x="1259" y="1451" class="n s">13</text><text x="1280" y="1451" class="n s">14</text>
<text x="958" y="1471" class="n s">15</text><text x="980" y="1471" class="n s">16</text><text x="1001" y="1471" class="n s">17</text><text x="1023" y="1471" class="n s">18</text><text x="1044" y="1471" class="n s">19</text><text x="1066" y="1471" class="n s">20</text><text x="1087" y="1471" class="n s">21</text><text x="1109" y="1471" class="n s">22</text><text x="1130" y="1471" class="n s">23</text><text x="1152" y="1471" class="n s">24</text><text x="1173" y="1471" class="n s">25</text><text x="1194" y="1471" class="n s">26</text><text x="1216" y="1471" class="n s">27</text><text x="1237" y="1471" class="n s">28</text><text x="1259" y="1471" class="n s">29</text><text x="1280" y="1471" class="n s">30</text>
</g>
</svg>
</body></html>
